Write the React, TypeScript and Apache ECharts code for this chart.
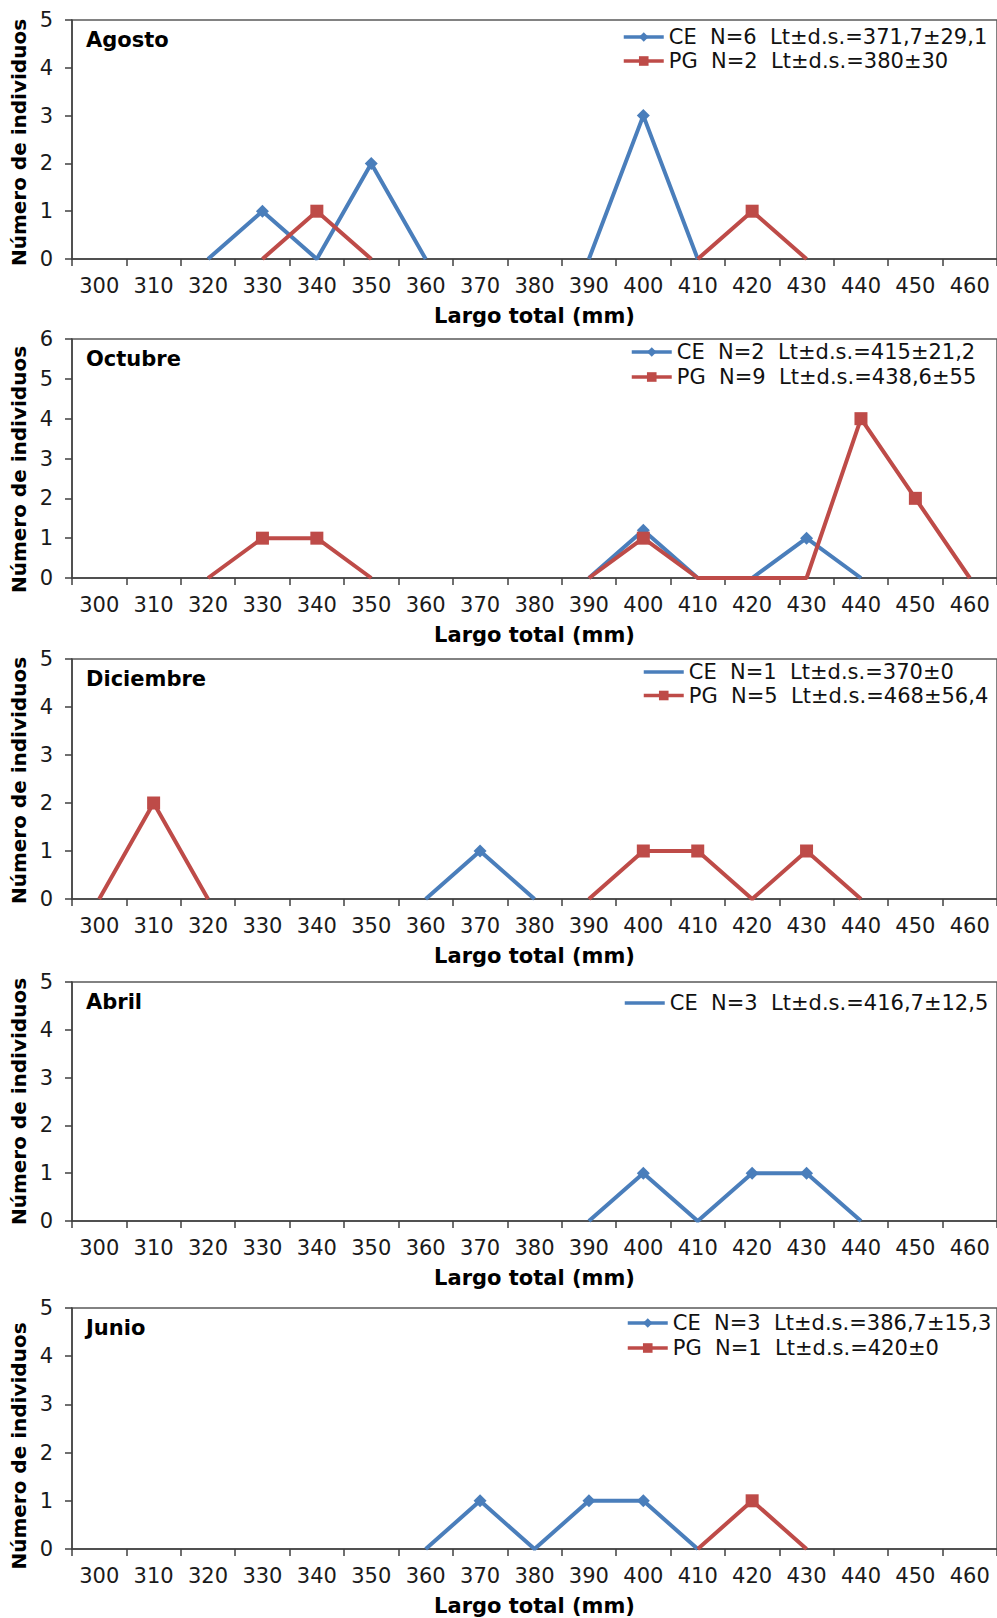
import React, { useEffect, useRef } from "react";
import * as echarts from "echarts";

// Total length classes (mm) on the x axis
const lengthClasses = [
  "300", "310", "320", "330", "340", "350", "360", "370", "380",
  "390", "400", "410", "420", "430", "440", "450", "460",
];

// Number of individuals per length class; null = no line drawn there
const agostoCE = [null, null, 0, 1, 0, 2, 0, null, null, 0, 3, 0, null, null, null, null, null];
const agostoPG = [null, null, null, 0, 1, 0, null, null, null, null, null, 0, 1, 0, null, null, null];
const octubreCE = [null, null, null, null, null, null, null, null, null, 0, 1.2, 0, 0, 1, 0, null, null];
const octubrePG = [null, null, 0, 1, 1, 0, null, null, null, 0, 1, 0, 0, 0, 4, 2, 0];
const diciembreCE = [null, null, null, null, null, null, 0, 1, 0, null, null, null, null, null, null, null, null];
const diciembrePG = [0, 2, 0, null, null, null, null, null, null, 0, 1, 1, 0, 1, 0, null, null];
const abrilCE = [null, null, null, null, null, null, null, null, null, 0, 1, 0, 1, 1, 0, null, null];
const junioCE = [null, null, null, null, null, null, 0, 1, 0, 1, 1, 0, null, null, null, null, null];
const junioPG = [null, null, null, null, null, null, null, null, null, null, null, 0, 1, 0, null, null, null];

const FONT = "'DejaVu Sans', Verdana, sans-serif";
const BLUE = "#4A7EBB";
const RED = "#BE4B48";

type Line = { kind: "CE" | "PG"; name: string; values: (number | null)[]; legendMarker: boolean };
type Panel = {
  month: string;
  top: number;
  height: number;
  yMax: number;
  yNameGap: number;
  yNameShift: number;
  legendLeft: number;
  legendTop: number;
  legendGap: number;
  lines: Line[];
};

const panels: Panel[] = [
  {
    month: "Agosto", top: 20, height: 239, yMax: 5, yNameGap: 30, yNameShift: 6,
    legendLeft: 622, legendTop: 26.5, legendGap: 3,
    lines: [
      { kind: "CE", name: "CE\u00a0 N=6\u00a0 Lt±d.s.=371,7±29,1", values: agostoCE, legendMarker: true },
      { kind: "PG", name: "PG\u00a0 N=2\u00a0 Lt±d.s.=380±30", values: agostoPG, legendMarker: true },
    ],
  },
  {
    month: "Octubre", top: 339, height: 239, yMax: 6, yNameGap: 31, yNameShift: 22,
    legendLeft: 630, legendTop: 341.5, legendGap: 4,
    lines: [
      { kind: "CE", name: "CE\u00a0 N=2\u00a0 Lt±d.s.=415±21,2", values: octubreCE, legendMarker: true },
      { kind: "PG", name: "PG\u00a0 N=9\u00a0 Lt±d.s.=438,6±55", values: octubrePG, legendMarker: true },
    ],
  },
  {
    month: "Diciembre", top: 659, height: 240, yMax: 5, yNameGap: 32, yNameShift: 3,
    legendLeft: 642, legendTop: 661.5, legendGap: 2.5,
    lines: [
      { kind: "CE", name: "CE\u00a0 N=1\u00a0 Lt±d.s.=370±0", values: diciembreCE, legendMarker: false },
      { kind: "PG", name: "PG\u00a0 N=5\u00a0 Lt±d.s.=468±56,4", values: diciembrePG, legendMarker: true },
    ],
  },
  {
    month: "Abril", top: 982, height: 239, yMax: 5, yNameGap: 32, yNameShift: 0,
    legendLeft: 623, legendTop: 992.5, legendGap: 3,
    lines: [
      { kind: "CE", name: "CE\u00a0 N=3\u00a0 Lt±d.s.=416,7±12,5", values: abrilCE, legendMarker: false },
    ],
  },
  {
    month: "Junio", top: 1308, height: 241, yMax: 5, yNameGap: 30, yNameShift: 35,
    legendLeft: 626, legendTop: 1312.5, legendGap: 4,
    lines: [
      { kind: "CE", name: "CE\u00a0 N=3\u00a0 Lt±d.s.=386,7±15,3", values: junioCE, legendMarker: true },
      { kind: "PG", name: "PG\u00a0 N=1\u00a0 Lt±d.s.=420±0", values: junioPG, legendMarker: true },
    ],
  },
];

// Zero counts are joined by the line but carry no marker
const toPoint = (v: number | null) => (v === 0 ? { value: 0, symbol: "none" } : v);

function buildOption() {
  const axisColor = "#404040";
  const labelColor = "#1a1a1a";
  return {
    animation: false,
    backgroundColor: "#ffffff",
    textStyle: { fontFamily: FONT },
    title: panels.map((p) => ({
      text: p.month,
      left: 86,
      top: p.top + 9.5,
      padding: 0,
      textStyle: { fontFamily: FONT, fontSize: 21, fontWeight: "bold", color: "#000" },
    })),
    legend: panels.map((p) => ({
      orient: "vertical",
      left: p.legendLeft,
      top: p.legendTop,
      padding: 0,
      itemWidth: 40,
      itemHeight: 12,
      itemGap: p.legendGap,
      selectedMode: false,
      lineStyle: { width: 3.5 },
      textStyle: { fontFamily: FONT, fontSize: 21, color: "#111" },
      data: p.lines.map((l) =>
        l.legendMarker ? l.name : { name: l.name, itemStyle: { opacity: 0 } }
      ),
    })),
    grid: panels.map((p) => ({
      left: 72,
      right: -2,
      top: p.top,
      height: p.height,
      show: true,
      borderColor: "#595959",
      borderWidth: 1.5,
      backgroundColor: "transparent",
    })),
    xAxis: panels.map((_, i) => ({
      type: "category",
      gridIndex: i,
      data: lengthClasses,
      boundaryGap: true,
      name: "Largo total (mm)",
      nameLocation: "middle",
      nameGap: 46.5,
      nameTextStyle: { fontFamily: FONT, fontSize: 21, fontWeight: "bold", color: "#000" },
      axisLine: { show: true, lineStyle: { color: axisColor, width: 1.5 } },
      axisTick: { show: true, interval: 0, length: 7, lineStyle: { color: axisColor, width: 1.5 } },
      axisLabel: { interval: 0, margin: 16, fontFamily: FONT, fontSize: 21, color: labelColor },
      splitLine: { show: false },
    })),
    yAxis: panels.map((p, i) => ({
      type: "value",
      gridIndex: i,
      min: 0,
      max: p.yMax,
      interval: 1,
      name: "Número de individuos",
      nameLocation: "middle",
      nameGap: p.yNameGap,
      nameTextStyle: {
        fontFamily: FONT,
        fontSize: 20,
        fontWeight: "bold",
        color: "#000",
        padding: [0, p.yNameShift, 0, 0],
      },
      axisLine: { show: true, lineStyle: { color: axisColor, width: 1.5 } },
      axisTick: { show: true, length: 7, lineStyle: { color: axisColor, width: 1.5 } },
      axisLabel: { margin: 19, fontFamily: FONT, fontSize: 21, color: labelColor },
      splitLine: { show: false },
    })),
    series: panels.flatMap((p, i) =>
      p.lines.map((l) => {
        const color = l.kind === "CE" ? BLUE : RED;
        return {
          type: "line",
          name: l.name,
          xAxisIndex: i,
          yAxisIndex: i,
          data: l.values.map(toPoint),
          connectNulls: false,
          symbol: l.kind === "CE" ? "diamond" : "rect",
          symbolSize: 13,
          z: l.kind === "CE" ? 2 : 3,
          lineStyle: { color, width: 4 },
          itemStyle: { color },
          emphasis: { disabled: true },
        };
      })
    ),
  };
}

export default function App() {
  const ref = useRef<HTMLDivElement>(null);
  useEffect(() => {
    if (!ref.current) return;
    const chart = echarts.init(ref.current, null, { renderer: "svg" });
    chart.setOption(buildOption() as any);
    return () => chart.dispose();
  }, []);
  return (
    <div
      ref={ref}
      style={{ position: "absolute", left: 0, top: 0, width: 997, height: 1618, background: "#fff" }}
    />
  );
}
